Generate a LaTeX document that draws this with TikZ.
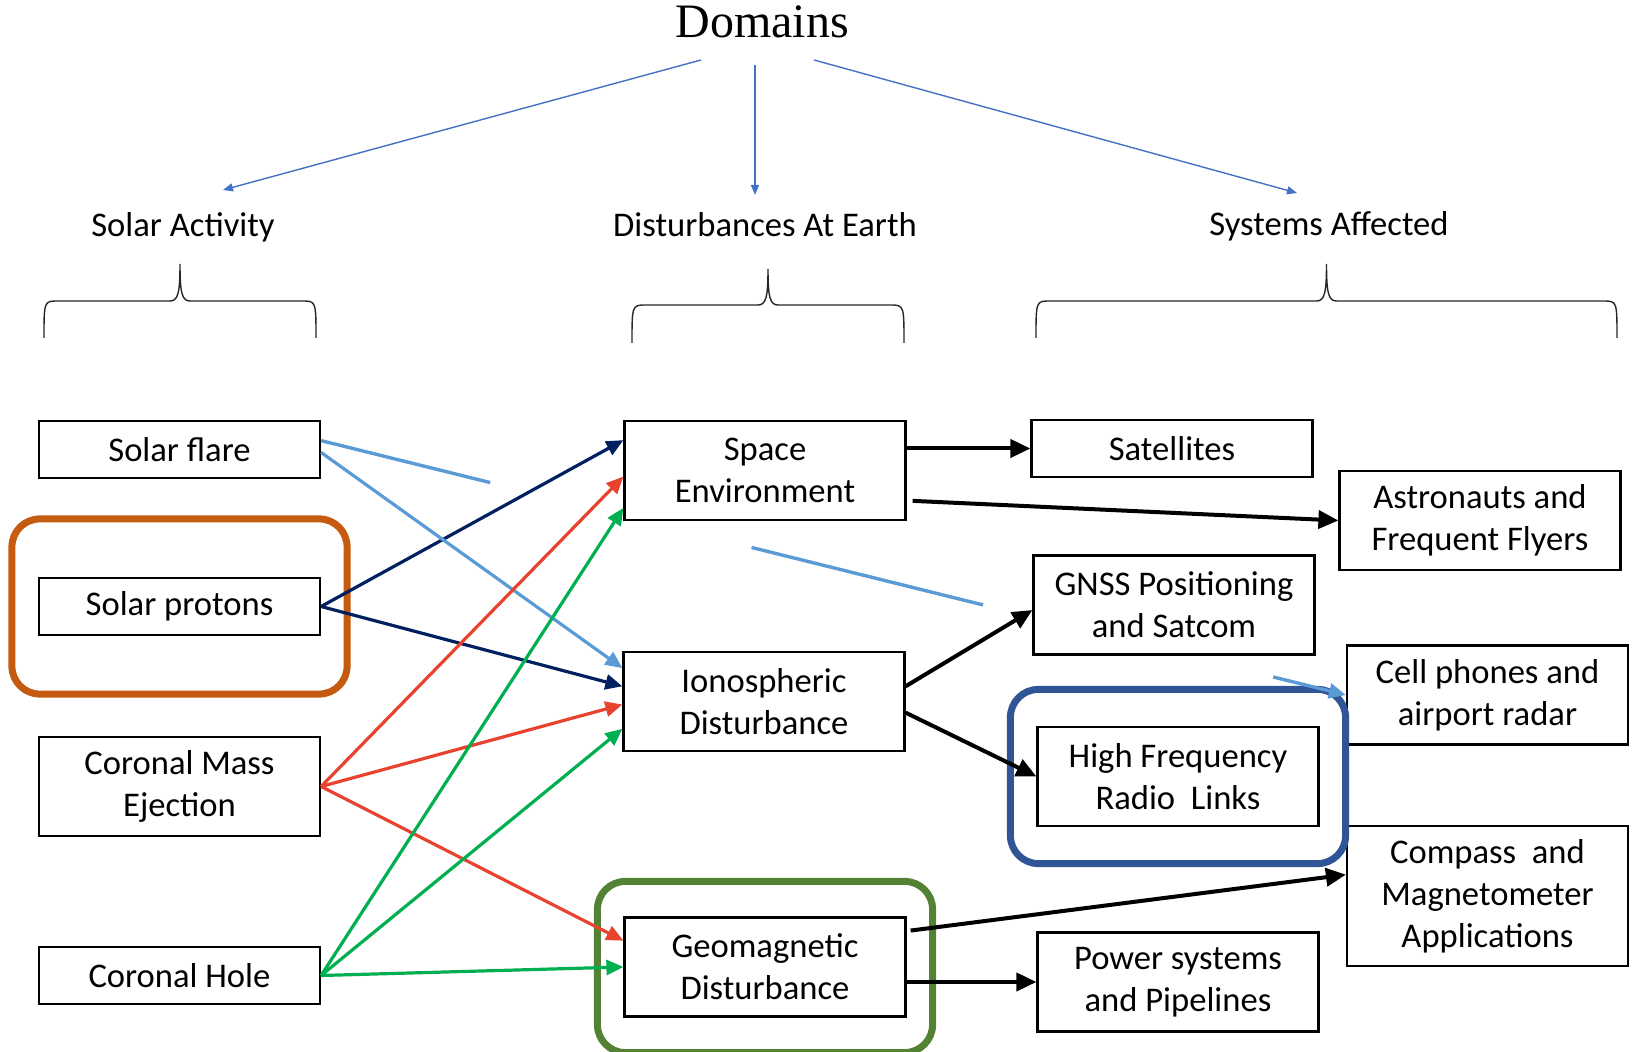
\documentclass[tikz,border=0pt]{standalone}
\usepackage{fontspec}
\setmainfont{Carlito}
\newfontfamily\titlefont{Liberation Serif}
\usetikzlibrary{arrows.meta, positioning, calc, fit}
\definecolor{navyline}{HTML}{002060}
\definecolor{redline}{HTML}{E8432E}
\definecolor{greenline}{HTML}{00AF50}
\definecolor{lblue}{HTML}{5B9BD5}
\definecolor{domblue}{HTML}{4472C4}
\definecolor{orangebox}{HTML}{C55A11}
\definecolor{greenbox}{HTML}{548235}
\definecolor{bluebox}{HTML}{2F5597}
\newcommand{\boxfont}{\fontsize{17.3}{21}\selectfont}
\tikzset{
    box/.style={draw, line width=1.1pt, minimum width=140.5pt, align=center, font=\boxfont, inner sep=2pt},
    onebox/.style={box, minimum height=28.5pt},
    twobox/.style={box, minimum height=49.5pt},
    head/.style={anchor=base, font=\boxfont},
    hilite/.style={draw=#1, line width=3.5pt, rounded corners=14pt, inner xsep=13pt},
    arr/.style={-{Triangle[length=10pt,width=9pt]}, line width=2pt},
    carr/.style={-{Triangle[length=8.5pt,width=7.5pt]}, line width=1.6pt, draw=#1},
    lbl/.style={line width=1.7pt, draw=lblue},
    darr/.style={-{Triangle[length=5pt,width=4pt]}, line width=0.7pt, draw=domblue}
}

\begin{document}
\begin{tikzpicture}[x=0.5pt, y=-0.5pt]
    \useasboundingbox (0,0) rectangle (1640,1052);

    % Domains and headers
    \node[anchor=base, font=\titlefont\fontsize{24}{29}\selectfont] (dom) at (762,38) {Domains};
    \node[head] (sa) at (183,237) {Solar Activity};
    \node[head] (da) at (765,237) {Disturbances At Earth};
    \node[head] (sy) at (1329,236) {Systems Affected};

    \draw[darr] ($(dom.base)+(-61,22)$) -- ($(sa.base)+(40,-47)$);
    \draw[darr] ($(dom.base)+(-7,27)$) -- ($(da.base)+(-10,-42)$);
    \draw[darr] ($(dom.base)+(52,22)$) -- ($(sy.base)+(-32,-43)$);

    % Braces
    \foreach \xa/\xb/\yt/\yb/\yp in {44/316/301/338/264, 632/904/305/343/269, 1036/1617/301/338/264}{
        \pgfmathsetmacro\xm{(\xa+\xb)/2}
        \draw[line width=0.7pt, black!85] (\xa,\yb) .. controls (\xa,\yt) .. (\xa+14,\yt) -- (\xm-10,\yt)
            .. controls (\xm-2,\yt) and (\xm,\yt-8) .. (\xm,\yp)
            .. controls (\xm,\yt-8) and (\xm+2,\yt) .. (\xm+10,\yt) -- (\xb-14,\yt)
            .. controls (\xb,\yt) .. (\xb,\yb);
    }

    % Solar activity
    \node[onebox] (sf) at (179.5,449.5) {Solar flare};
    \node[onebox] (sp) at (179.5,606.5) {Solar protons};
    \node[twobox] (cme) at (179.5,786.5) {Coronal Mass\\Ejection};
    \node[onebox] (ch) at (179.5,975.5) {Coronal Hole};

    % Disturbances at Earth
    \node[twobox] (se) at (765,470.5) {Space\\Environment};
    \node[twobox] (ion) at (764,701.5) {Ionospheric\\Disturbance};
    \node[twobox] (geo) at (765,967) {Geomagnetic\\Disturbance};

    % Systems affected
    \node[onebox] (sat) at (1172,448.5) {Satellites};
    \node[twobox] (astro) at (1480,520.5) {Astronauts and\\Frequent Flyers};
    \node[twobox] (gnss) at (1174,605) {GNSS Positioning\\and Satcom};
    \node[twobox] (cell) at (1487.5,695) {Cell phones and\\airport radar};
    \node[twobox] (hf) at (1178,776.5) {High Frequency\\Radio\ \ Links};
    \node[box, minimum height=70pt] (comp) at (1487.5,896) {Compass\ \ and\\Magnetometer\\Applications};
    \node[twobox] (pw) at (1178,982) {Power systems\\and Pipelines};

    % Highlights
    \node[hilite=orangebox, fit=(sp), inner ysep=29pt] (spmark) {};
    \node[hilite=greenbox, fit=(geo), inner ysep=17.5pt] (geomark) {};
    \node[hilite=bluebox, fit=(hf), inner ysep=18.25pt] (hfmark) {};

    % Solar activity -> disturbances
    \draw[carr=navyline] (sp.east) -- ($(se.north west)!.2!(se.south west)$);
    \draw[carr=navyline] (sp.east) -- ($(ion.north west)!.35!(ion.south west)$);
    \draw[carr=lblue] ($(sf.north east)!.55!(sf.south east)$) -- ($(ion.north west)!.17!(ion.south west)$);
    \draw[carr=redline] (cme.east) -- ($(se.north west)!.56!(se.south west)$);
    \draw[carr=redline] (cme.east) -- ($(ion.north west)!.53!(ion.south west)$);
    \draw[carr=redline] (cme.east) -- ($(geo.north west)!.24!(geo.south west)$);
    \draw[carr=greenline] (ch.east) -- ($(se.north west)!.87!(se.south west)$);
    \draw[carr=greenline] (ch.east) -- ($(ion.north west)!.77!(ion.south west)$);
    \draw[carr=greenline] (ch.east) -- (geo.west);

    % Solar flare -> cell phones, partly hidden
    \coordinate (sfa) at ($(sf.north east)!.35!(sf.south east)$);
    \draw[lbl] (sfa) -- ($(sfa)!.165!(cell.west)$);
    \draw[lbl] ($(sfa)!.42!(cell.west)$) -- ($(sfa)!.646!(cell.west)$);
    \draw[lbl, -{Triangle[length=8.5pt,width=7.5pt]}] ($(sfa)!.929!(cell.west)$) -- (cell.west);

    % Disturbances -> systems
    \draw[arr] (se.east |- sat.west) -- (sat.west);
    \draw[arr] ($(se.north east)!.8!(se.south east)+(6,0)$) -- (astro.west);
    \draw[arr] ($(ion.north east)!.35!(ion.south east)$) -- ($(gnss.north west)!.55!(gnss.south west)$);
    \draw[arr] ($(ion.north east)!.61!(ion.south east)$) -- (hf.west);
    \draw[arr] ($(geo.north east)!.14!(geo.south east)+(4,0)$) -- ($(comp.north west)!.35!(comp.south west)$);
    \draw[arr] (geo.east |- pw.west) -- (pw.west);
\end{tikzpicture}
\end{document}
